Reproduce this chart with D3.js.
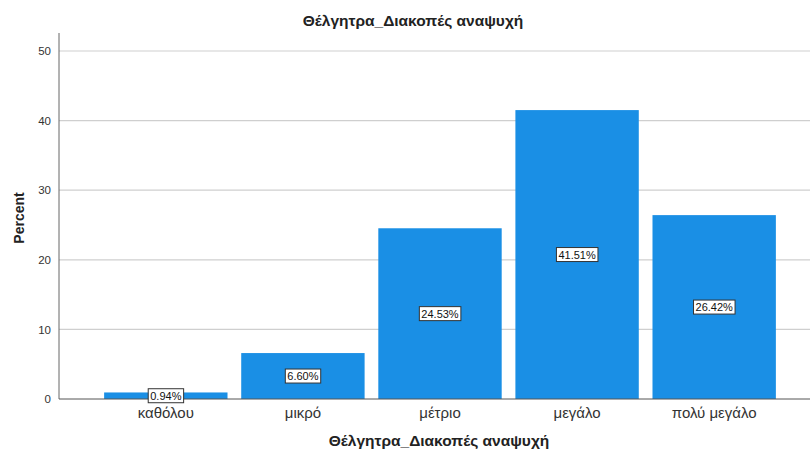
<!DOCTYPE html>
<html>
<head>
<meta charset="utf-8">
<script src="https://cdn.jsdelivr.net/npm/d3@7"></script>
<style>
  body { margin: 0; background: #fff; }
  svg { display: block; font-family: Arial, "Liberation Sans", sans-serif; }
</style>
</head>
<body>
<svg id="chart" width="810" height="452"></svg>
<script>
const categories = ["καθόλου", "μικρό", "μέτριο", "μεγάλο", "πολύ μεγάλο"];
const percents = [0.94, 6.60, 24.53, 41.51, 26.42];
const yTicks = [0, 10, 20, 30, 40, 50];
const chartTitle = "Θέλγητρα_Διακοπές αναψυχή";
const xTitle = "Θέλγητρα_Διακοπές αναψυχή";
const yTitle = "Percent";

const svg = d3.select("#chart");
const axisX = 59, plotRight = 810, baseY = 399, topY = 33;

const y = d3.scaleLinear().domain([0, 50]).range([baseY, 51]);
const x = d3.scaleBand().domain(categories).range([63, 817])
  .paddingInner(0.1).paddingOuter(0.3);

// chart title
svg.append("text")
  .attr("x", 413).attr("y", 26)
  .attr("text-anchor", "middle")
  .style("font-size", "15.5px").style("font-weight", "bold")
  .attr("fill", "#222")
  .text(chartTitle);

// horizontal gridlines
svg.append("g").selectAll("line")
  .data(yTicks.filter(d => d > 0))
  .join("line")
  .attr("x1", axisX).attr("x2", plotRight)
  .attr("y1", d => y(d)).attr("y2", d => y(d))
  .attr("stroke", "#cfcfcf").attr("stroke-width", 1.2);

// bars
svg.append("g").selectAll("rect")
  .data(percents)
  .join("rect")
  .attr("x", (d, i) => x(categories[i]))
  .attr("width", x.bandwidth())
  .attr("y", d => y(d))
  .attr("height", d => y(0) - y(d))
  .attr("fill", "#1a8fe5");

// y axis
const yAxis = d3.axisLeft(y).tickValues(yTicks).tickSize(0).tickPadding(8);
const gy = svg.append("g").attr("transform", `translate(${axisX},0)`).call(yAxis);
gy.select(".domain").remove();
gy.selectAll("text").style("font-size", "11.5px").attr("fill", "#333");
svg.append("line")
  .attr("x1", axisX).attr("x2", axisX).attr("y1", topY).attr("y2", baseY)
  .attr("stroke", "#666").attr("stroke-width", 1);

// x axis
const xAxis = d3.axisBottom(x).tickSize(0).tickPadding(8);
const gx = svg.append("g").attr("transform", `translate(0,${baseY})`).call(xAxis);
gx.select(".domain").remove();
gx.selectAll("text").style("font-size", "15px").attr("fill", "#333");
svg.append("line")
  .attr("x1", axisX).attr("x2", plotRight).attr("y1", baseY).attr("y2", baseY)
  .attr("stroke", "#555").attr("stroke-width", 1);

// value labels
const labels = svg.append("g").selectAll("g")
  .data(percents)
  .join("g")
  .attr("transform", (d, i) =>
    `translate(${x(categories[i]) + x.bandwidth() / 2},${(y(d) + y(0)) / 2})`);
labels.each(function(d) {
  const g = d3.select(this);
  const t = g.append("text")
    .attr("text-anchor", "middle").attr("dy", "0.36em")
    .style("font-size", "11px").attr("fill", "#111")
    .text(d.toFixed(2) + "%");
  const bb = t.node().getBBox();
  g.insert("rect", "text")
    .attr("x", bb.x - 2).attr("y", -7)
    .attr("width", bb.width + 4).attr("height", 14)
    .attr("fill", "#fff").attr("stroke", "#333").attr("stroke-width", 1);
});

// axis titles
svg.append("text")
  .attr("x", 439).attr("y", 446)
  .attr("text-anchor", "middle")
  .style("font-size", "15.5px").style("font-weight", "bold")
  .attr("fill", "#222")
  .text(xTitle);
svg.append("text")
  .attr("transform", "translate(24,218) rotate(-90)")
  .attr("text-anchor", "middle")
  .style("font-size", "14px").style("font-weight", "bold")
  .attr("fill", "#222")
  .text(yTitle);
</script>
</body>
</html>
